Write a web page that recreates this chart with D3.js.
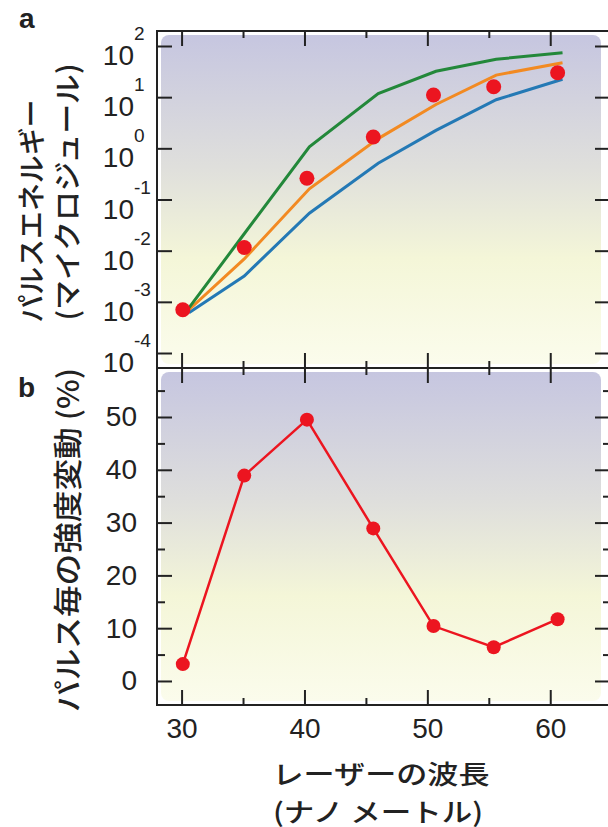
<!DOCTYPE html>
<html>
<head>
<meta charset="utf-8">
<title>Pulse energy vs wavelength</title>
<script src="https://cdn.jsdelivr.net/npm/d3@7"></script>
<style>
  body { margin: 0; background: #fff; }
  .num, .tick text { font-family: "Liberation Sans", Arial, sans-serif; font-size: 28px; fill: #222; }
  .jp { font-family: "Noto Sans CJK JP", sans-serif; fill: #222; font-weight: 500; }
  .tick line { stroke: #222; stroke-width: 2; }
  .domain { display: none; }
</style>
</head>
<body>
<div id="chart"></div>
<script>
// laser wavelength (nm) of the measured points
var wavelength = [30.1, 35.1, 40.2, 45.6, 50.5, 55.4, 60.6];
// measured pulse energy (microjoule)
var pulseEnergy = [0.0007, 0.0115, 0.26, 1.66, 11, 16, 30];
// pulse to pulse intensity fluctuation (%)
var fluctuation = [3.2, 38.9, 49.5, 28.9, 10.4, 6.4, 11.7];

// simulated curves (panel a)
var simWavelength = [30.6, 35.1, 40.4, 46.0, 50.7, 55.6, 61.0];
var simGreen  = [0.00076, 0.0214, 1.07, 11.7, 32, 55, 74];
var simOrange = [0.0007, 0.0069, 0.162, 1.55, 7.2, 27, 47];
var simBlue   = [0.00061, 0.0032, 0.054, 0.51, 2.24, 8.9, 22.4];

var xTicks = [30, 40, 50, 60];
var xMinor = [35, 45, 55];
var energyExp = [-4, -3, -2, -1, 0, 1, 2];
var fluctTicks = [0, 10, 20, 30, 40, 50];
var fluctMinor = [5, 15, 25, 35, 45, 55];

var width = 608, height = 827;
var left = 157, right = 609;
var topA = 31, mid = 368, botB = 705;

var svg = d3.select('#chart').append('svg')
    .attr('width', width)
    .attr('height', height);

var x = d3.scaleLinear().domain([28, 64.7]).range([left, 608]);
var yA = d3.scaleLog().domain([Math.pow(10, -4.293), Math.pow(10, 2.293)]).range([mid, topA]);
var yB = d3.scaleLinear().domain([-4.55, 59.28]).range([botB, mid]);

// background gradient
var defs = svg.append('defs');
var grad = defs.append('linearGradient')
    .attr('id', 'bg').attr('x1', 0).attr('y1', 0).attr('x2', 0).attr('y2', 1);
grad.append('stop').attr('offset', '0%').attr('stop-color', '#c6c6e0');
grad.append('stop').attr('offset', '40%').attr('stop-color', '#dfdfdc');
grad.append('stop').attr('offset', '68%').attr('stop-color', '#f4f6d8');
grad.append('stop').attr('offset', '100%').attr('stop-color', '#fbfcec');

[[topA, mid], [mid, botB]].forEach(function(p) {
  svg.append('rect')
    .attr('x', left + 4).attr('y', p[0] + 4)
    .attr('width', 601 - left - 4).attr('height', p[1] - p[0] - 8)
    .attr('rx', 8)
    .attr('fill', 'url(#bg)');
});

// axes helper
function ticks(axis, vals, size, tx, ty) {
  svg.append('g')
    .attr('transform', 'translate(' + tx + ',' + ty + ')')
    .call(axis.tickValues(vals).tickSize(size).tickFormat(''));
}

// panel a ticks
ticks(d3.axisTop(x), xTicks, -15, 0, topA);
ticks(d3.axisTop(x), xMinor, -7, 0, topA);
ticks(d3.axisBottom(x), xTicks, -15, 0, mid);
ticks(d3.axisBottom(x), xMinor, -7, 0, mid);
var energyTicks = energyExp.map(function(e) { return Math.pow(10, e); });
ticks(d3.axisLeft(yA), energyTicks, -15, left, 0);
ticks(d3.axisRight(yA), energyTicks, -14, right, 0);

// panel b ticks
ticks(d3.axisTop(x), xTicks, -15, 0, mid);
ticks(d3.axisTop(x), xMinor, -7, 0, mid);
ticks(d3.axisRight(yB), fluctTicks, -14, right, 0);
ticks(d3.axisRight(yB), fluctMinor, -6, right, 0);
ticks(d3.axisLeft(yB), fluctMinor, -8, left, 0);
svg.append('g')
  .attr('transform', 'translate(' + left + ',0)')
  .call(d3.axisLeft(yB).tickValues(fluctTicks).tickSize(-15).tickPadding(20));
ticks(d3.axisBottom(x), xMinor, -7, 0, botB);
svg.append('g')
  .attr('transform', 'translate(0,' + botB + ')')
  .call(d3.axisBottom(x).tickValues(xTicks).tickSize(-15).tickPadding(13));

// frames
svg.append('rect').attr('x', left).attr('y', topA)
  .attr('width', right - left).attr('height', botB - topA)
  .attr('fill', 'none').attr('stroke', '#222').attr('stroke-width', 2);
svg.append('line').attr('x1', left).attr('x2', right).attr('y1', mid).attr('y2', mid)
  .attr('stroke', '#222').attr('stroke-width', 2);

// log tick labels 10^n
var lab = svg.append('g').selectAll('g').data(energyExp).enter().append('g');
lab.append('text').attr('class', 'num')
  .attr('x', 134).attr('y', function(e) { return yA(Math.pow(10, e)) + 19; })
  .attr('text-anchor', 'end').text('10');
lab.append('text').attr('class', 'num').style('font-size', '19px')
  .attr('x', 134).attr('y', function(e) { return yA(Math.pow(10, e)) - 6; })
  .text(function(e) { return e; });

// simulated curves
var idx = d3.range(simWavelength.length);
[[simBlue, '#2479b5'], [simOrange, '#f28a22'], [simGreen, '#23883a']].forEach(function(s) {
  var line = d3.line()
    .x(function(i) { return x(simWavelength[i]); })
    .y(function(i) { return yA(s[0][i]); });
  svg.append('path').attr('d', line(idx))
    .attr('fill', 'none').attr('stroke', s[1]).attr('stroke-width', 3);
});

// measured energy points
svg.append('g').selectAll('circle').data(idx).enter().append('circle')
  .attr('cx', function(i) { return x(wavelength[i]); })
  .attr('cy', function(i) { return yA(pulseEnergy[i]); })
  .attr('r', 7.5).attr('fill', '#ec1520');

// fluctuation line and points
var fLine = d3.line()
  .x(function(i) { return x(wavelength[i]); })
  .y(function(i) { return yB(fluctuation[i]); });
svg.append('path').attr('d', fLine(idx))
  .attr('fill', 'none').attr('stroke', '#ec1520').attr('stroke-width', 2.5);
svg.append('g').selectAll('circle').data(idx).enter().append('circle')
  .attr('cx', function(i) { return x(wavelength[i]); })
  .attr('cy', function(i) { return yB(fluctuation[i]); })
  .attr('r', 7).attr('fill', '#ec1520');

// panel letters
svg.append('text').attr('class', 'num').attr('x', 19).attr('y', 28)
  .style('font-weight', 'bold').text('a');
svg.append('text').attr('class', 'num').attr('x', 18).attr('y', 397)
  .style('font-weight', 'bold').text('b');

// axis titles
function vtitle(str, cx, cy, len, fs) {
  svg.append('text').attr('class', 'jp')
    .attr('transform', 'translate(' + cx + ',' + cy + ') rotate(-90)')
    .attr('text-anchor', 'middle').attr('dominant-baseline', 'central')
    .style('font-size', fs + 'px')
    .attr('textLength', len).attr('lengthAdjust', 'spacingAndGlyphs')
    .text(str);
}
vtitle('パルスエネルギー', 30, 211, 223, 28);
vtitle('(マイクロジュール)', 66, 192, 257, 28);
vtitle('パルス毎の強度変動 (%)', 66, 540, 344, 29);

function htitle(str, cx, cy, len) {
  svg.append('text').attr('class', 'jp')
    .attr('x', cx).attr('y', cy)
    .attr('text-anchor', 'middle').attr('dominant-baseline', 'central')
    .style('font-size', '26px')
    .attr('textLength', len).attr('lengthAdjust', 'spacingAndGlyphs')
    .text(str);
}
htitle('レーザーの波長', 381, 772, 217);
htitle('(ナノ メートル)', 378, 810, 210);
</script>
</body>
</html>
